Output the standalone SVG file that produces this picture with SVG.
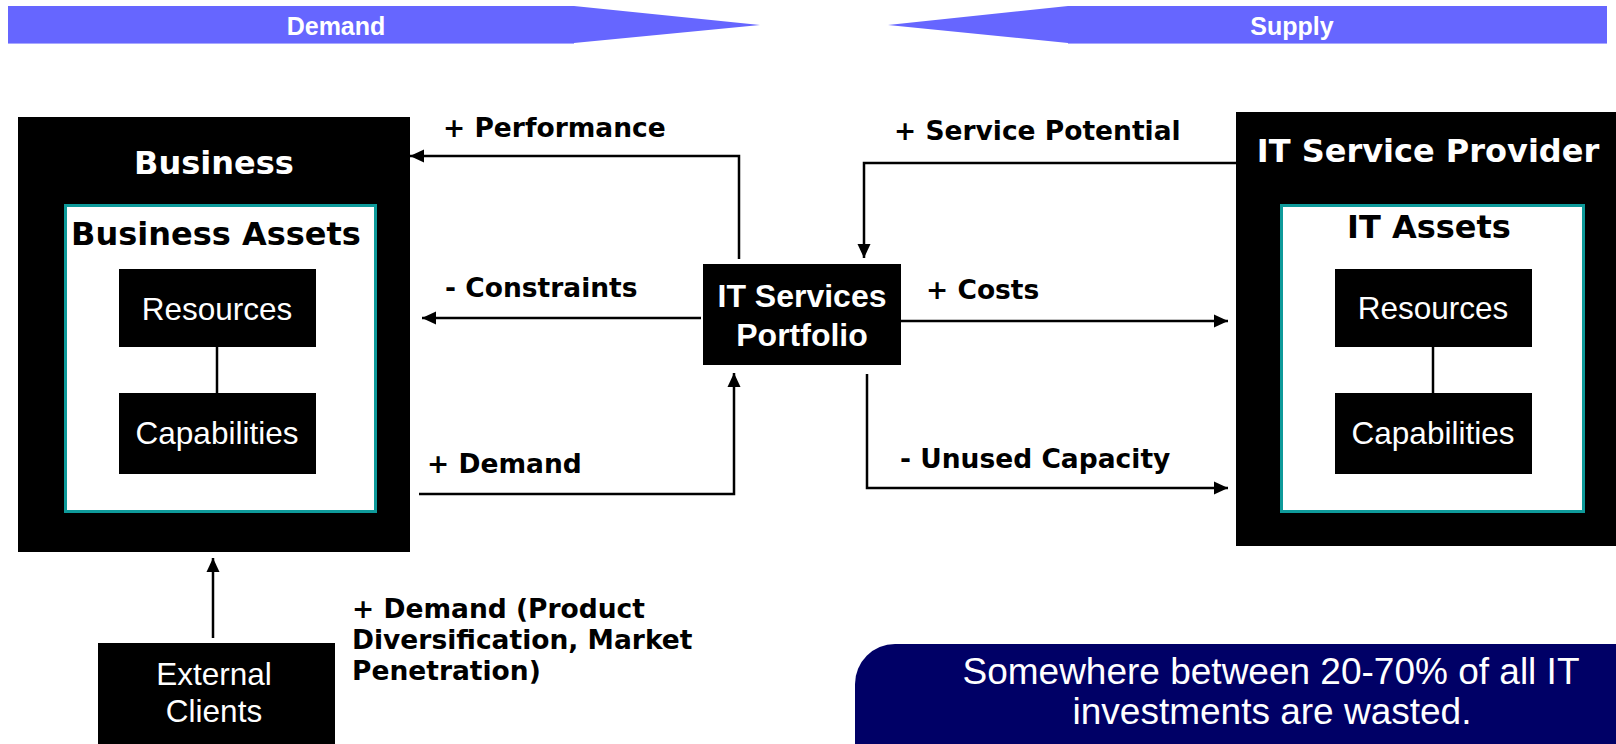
<svg xmlns="http://www.w3.org/2000/svg" width="1616" height="744" viewBox="0 0 1616 744">
  <style>
    .banner { fill: #6666ff; }
    .bannerText { font-family: "Liberation Sans", Arial, sans-serif; font-weight: bold; font-size: 25px; fill: #ffffff; text-anchor: middle; }
    .outer { fill: #000000; }
    .inner { fill: #ffffff; stroke: #0e9a9a; stroke-width: 3; }
    .item { fill: #000000; }
    .title { font-family: "DejaVu Sans", Verdana, sans-serif; font-weight: bold; font-size: 32px; text-anchor: middle; }
    .itemText { font-family: "Liberation Sans", Arial, sans-serif; font-size: 31.5px; fill: #ffffff; text-anchor: middle; }
    .portfolioText { font-family: "Liberation Sans", Arial, sans-serif; font-weight: bold; font-size: 32px; fill: #ffffff; text-anchor: middle; }
    .label { font-family: "DejaVu Sans", Verdana, sans-serif; font-weight: bold; font-size: 26.5px; fill: #000000; }
    .link { fill: none; stroke: #000000; stroke-width: 2.5; }
    .arrow { fill: none; stroke: #000000; stroke-width: 2.5; marker-end: url(#head); }
    .note { fill: #000066; }
    .noteText { font-family: "Liberation Sans", Arial, sans-serif; font-size: 37px; fill: #ffffff; text-anchor: middle; }
  </style>
  <defs>
    <marker id="head" markerUnits="userSpaceOnUse" markerWidth="15" markerHeight="14" refX="14" refY="7" orient="auto">
      <path d="M0,0.5 L14,7 L0,13.5 z" fill="#000000"/>
    </marker>
  </defs>

  <rect width="1616" height="744" fill="#ffffff"/>

  <!-- demand / supply banner -->
  <g id="banner">
    <polygon class="banner" points="8,6 574,6 760,25 574,43 8,43"/>
    <polygon class="banner" points="1607,6 1068,6 888,25 1068,43 1607,43"/>
    <line x1="8" y1="43.5" x2="574" y2="43.5" stroke="#a8a8ff" stroke-width="1"/>
    <line x1="1068" y1="43.5" x2="1607" y2="43.5" stroke="#a8a8ff" stroke-width="1"/>
    <text class="bannerText" x="336" y="35">Demand</text>
    <text class="bannerText" x="1292" y="35">Supply</text>
  </g>

  <!-- business side -->
  <g id="business">
    <rect class="outer" x="18" y="117" width="392" height="435"/>
    <text class="title" x="214" y="174" fill="#ffffff">Business</text>
  </g>
  <g id="business-assets">
    <rect class="inner" x="65.5" y="205.5" width="310" height="306"/>
    <text class="title" x="216" y="245" fill="#000000">Business Assets</text>
  </g>
  <g id="business-resources">
    <rect class="item" x="119" y="269" width="197" height="78"/>
    <text class="itemText" x="217" y="320">Resources</text>
  </g>
  <g id="business-capabilities">
    <rect class="item" x="119" y="393" width="197" height="81"/>
    <text class="itemText" x="217" y="444">Capabilities</text>
  </g>

  <!-- supply side -->
  <g id="it-service-provider">
    <rect class="outer" x="1236" y="112" width="380" height="434"/>
    <text class="title" x="1428" y="162" fill="#ffffff" font-size="32.5">IT Service Provider</text>
  </g>
  <g id="it-assets">
    <rect class="inner" x="1281.5" y="205.5" width="302" height="306"/>
    <text class="title" x="1429" y="238" fill="#000000" font-size="32.5">IT Assets</text>
  </g>
  <g id="it-resources">
    <rect class="item" x="1335" y="269" width="197" height="78"/>
    <text class="itemText" x="1433" y="319">Resources</text>
  </g>
  <g id="it-capabilities">
    <rect class="item" x="1335" y="393" width="197" height="81"/>
    <text class="itemText" x="1433" y="444">Capabilities</text>
  </g>

  <!-- portfolio in the middle -->
  <g id="portfolio">
    <rect class="item" x="703" y="264" width="198" height="101"/>
    <text class="portfolioText" x="802" y="307">IT Services</text>
    <text class="portfolioText" x="802" y="346">Portfolio</text>
  </g>

  <!-- external clients -->
  <g id="external-clients">
    <rect class="item" x="98" y="643" width="237" height="101"/>
    <text class="itemText" x="214" y="685" font-size="30">External</text>
    <text class="itemText" x="214" y="722" font-size="30">Clients</text>
  </g>

  <!-- connectors -->
  <g id="connectors">
    <line class="link" x1="217" y1="347" x2="217" y2="393"/>
    <line class="link" x1="1433" y1="347" x2="1433" y2="393"/>
    <path class="arrow" d="M739,259 V156 H410"/>
    <path class="arrow" d="M701,318 H422"/>
    <path class="arrow" d="M419,494 H734 V373"/>
    <path class="arrow" d="M1236,163 H864 V258"/>
    <path class="arrow" d="M901,321 H1228"/>
    <path class="arrow" d="M867,374 V488 H1228"/>
    <path class="arrow" d="M213,638 V558"/>
  </g>

  <!-- connector labels -->
  <g id="labels">
    <text class="label" x="443" y="137">+ Performance</text>
    <text class="label" x="445" y="297">- Constraints</text>
    <text class="label" x="427" y="473">+ Demand</text>
    <text class="label" x="894" y="140">+ Service Potential</text>
    <text class="label" x="926" y="299">+ Costs</text>
    <text class="label" x="900" y="468">- Unused Capacity</text>
    <text class="label" x="352" y="618">+ Demand (Product</text>
    <text class="label" x="352" y="649">Diversification, Market</text>
    <text class="label" x="352" y="680">Penetration)</text>
  </g>

  <!-- callout -->
  <g id="callout">
    <path class="note" d="M855,744 V684 A40,40 0 0 1 895,644 H1616 V744 z"/>
    <text class="noteText" x="1271" y="684">Somewhere between 20-70% of all IT</text>
    <text class="noteText" x="1272" y="724">investments are wasted.</text>
  </g>
</svg>
